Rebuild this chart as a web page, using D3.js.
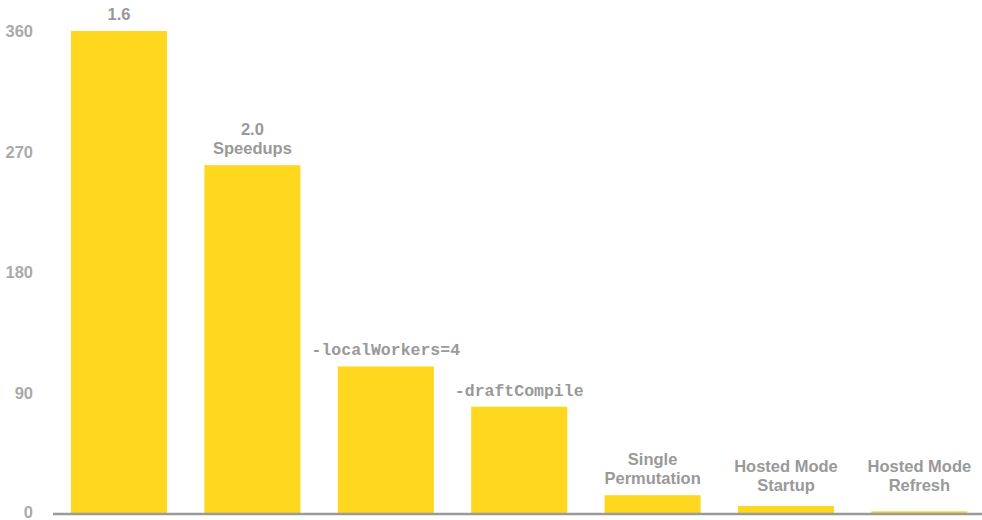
<!DOCTYPE html>
<html>
<head>
<meta charset="utf-8">
<script src="https://cdn.jsdelivr.net/npm/d3@7"></script>
<style>
  body { margin: 0; background: #ffffff; }
  #chart { width: 982px; height: 520px; }
</style>
</head>
<body>
<div id="chart"></div>
<script>
const WIDTH = 982;
const HEIGHT = 520;

const OFFSET_TOP = 31;
const OFFSET_BOTTOM = 6;
const OFFSET_LEFT = 52.3;
const OFFSET_RIGHT = -4.1;

// label lines for each bar, and whether the label is code (monospace)
const categories = [
  ["1.6"],
  ["2.0", "Speedups"],
  ["-localWorkers=4"],
  ["-draftCompile"],
  ["Single", "Permutation"],
  ["Hosted Mode", "Startup"],
  ["Hosted Mode", "Refresh"]
];
const isCode = [false, false, true, true, false, false, false];
const values = [360, 260, 110, 80, 14, 6, 2];
const yTicks = [0, 90, 180, 270, 360];

const BAR_COLOR = "#fed71e";
const LABEL_COLOR = "#999999";
const TICK_COLOR = "#aaaaaa";
const LINE_HEIGHT = 19;

function setCanvas() {
  return d3.select("#chart")
    .append("svg")
    .attr("width", WIDTH)
    .attr("height", HEIGHT);
}

function setScales() {
  let xScale = d3.scaleBand()
    .domain(d3.range(values.length))
    .range([OFFSET_LEFT, WIDTH - OFFSET_RIGHT])
    .paddingInner(0.28)
    .paddingOuter(0.14);

  let yScale = d3.scaleLinear()
    .domain([0, 360])
    .range([HEIGHT - OFFSET_BOTTOM, OFFSET_TOP]);

  return { xScale: xScale, yScale: yScale };
}

function drawAxis(canvas, scales) {
  // y tick labels only, no axis line
  let yAxis = d3.axisLeft(scales.yScale)
    .tickValues(yTicks)
    .tickSize(0)
    .tickPadding(0);

  canvas.append("g")
    .attr("transform", "translate(33,0)")
    .call(yAxis)
    .call(g => g.select(".domain").remove())
    .selectAll("text")
    .attr("fill", TICK_COLOR)
    .attr("dy", d => d === 0 ? "0.2em" : "0.32em")
    .style("font-family", "'Liberation Sans', Arial, sans-serif")
    .style("font-weight", "bold")
    .style("font-size", "16.5px");

  // baseline
  canvas.append("line")
    .attr("x1", 53)
    .attr("x2", WIDTH)
    .attr("y1", scales.yScale(0))
    .attr("y2", scales.yScale(0))
    .attr("stroke", "#9a9a9a")
    .attr("stroke-width", 2.5);
}

function drawBars(canvas, scales) {
  canvas.selectAll(".bar")
    .data(values)
    .enter()
    .append("rect")
    .attr("class", "bar")
    .attr("x", (d, i) => scales.xScale(i))
    .attr("width", scales.xScale.bandwidth())
    .attr("y", d => scales.yScale(d))
    .attr("height", d => scales.yScale(0) - scales.yScale(d))
    .attr("fill", BAR_COLOR);
}

function setLabelBars(canvas, scales) {
  let base = scales.yScale(0);
  let groups = canvas.selectAll(".label")
    .data(values)
    .enter()
    .append("text")
    .attr("class", "label")
    .attr("text-anchor", "middle")
    .attr("fill", LABEL_COLOR)
    .style("font-weight", "bold")
    .style("font-family", (d, i) => isCode[i]
      ? "'Liberation Mono', 'Courier New', monospace"
      : "'Liberation Sans', Arial, sans-serif")
    .style("font-size", "16.5px");

  groups.each(function (d, i) {
    let lines = categories[i];
    let x = scales.xScale(i) + scales.xScale.bandwidth() / 2;
    let lastY = Math.min(scales.yScale(d) - 11, base - 23);
    d3.select(this).selectAll("tspan")
      .data(lines)
      .enter()
      .append("tspan")
      .attr("x", x)
      .attr("y", (t, j) => lastY - (lines.length - 1 - j) * LINE_HEIGHT)
      .text(t => t);
  });
}

let canvas = setCanvas();
let scales = setScales();
drawBars(canvas, scales);
drawAxis(canvas, scales);
setLabelBars(canvas, scales);
</script>
</body>
</html>
